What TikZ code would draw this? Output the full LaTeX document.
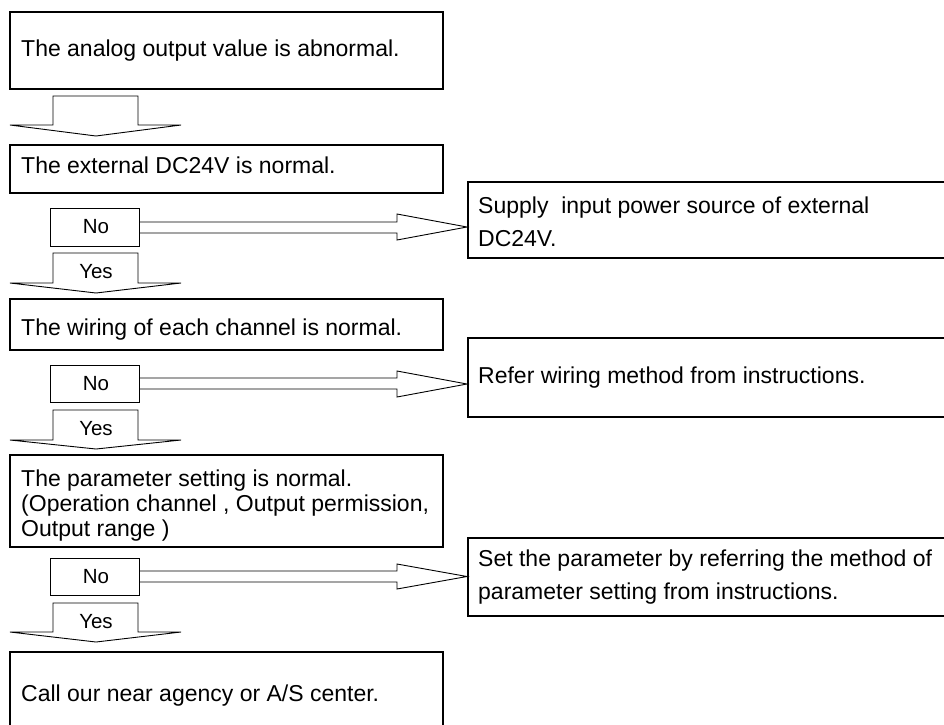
\documentclass[tikz,border=0pt]{standalone}
\usepackage{fontspec}
\setmainfont{Liberation Sans}
\begin{document}
\begin{tikzpicture}[x=1pt,y=-1pt,
  mainbox/.style={draw=black,line width=1.8pt,rectangle,inner sep=0pt,outer sep=0pt,anchor=north west},
  thinbox/.style={draw=black,line width=0.9pt,fill=white,rectangle,inner sep=0pt,outer sep=0pt,anchor=north west},
  txt/.style={inner sep=0pt,anchor=base west,font=\fontsize{23}{25}\selectfont},
  yn/.style={inner sep=0pt,anchor=center,font=\fontsize{20.5}{22}\selectfont},
  blockarrow/.style={draw=black,line width=0.9pt,fill=white,line join=miter}]

\useasboundingbox (0,0) rectangle (944,724);
\clip (0,0) rectangle (944,724);

% main boxes
\node[mainbox,minimum width=433pt,minimum height=77pt] (b1) at (10,12) {};
\node[mainbox,minimum width=433pt,minimum height=48pt] (b2) at (10,145) {};
\node[mainbox,minimum width=433pt,minimum height=51pt] (b3) at (10,299) {};
\node[mainbox,minimum width=433pt,minimum height=92pt] (b4) at (10,455) {};
\node[mainbox,minimum width=433pt,minimum height=100pt] (b5) at (10,652) {};
% right boxes
\node[mainbox,minimum width=520pt,minimum height=76pt] (r1) at (468,182) {};
\node[mainbox,minimum width=520pt,minimum height=79pt] (r2) at (468,338) {};
\node[mainbox,minimum width=520pt,minimum height=78pt] (r3) at (468,538) {};

% down arrows
\draw[blockarrow] (53,96) -- (53,125) -- (10,125) -- (96,136) -- (181,125) -- (138,125) -- (138,96) -- cycle;
\draw[blockarrow] (53,253) -- (53,283) -- (10,283) -- (96,293) -- (181,283) -- (138,283) -- (138,253) -- cycle;
\draw[blockarrow] (53,410) -- (53,440) -- (10,440) -- (96,449) -- (181,440) -- (138,440) -- (138,410) -- cycle;
\draw[blockarrow] (53,603) -- (53,632) -- (10,632) -- (96,642) -- (181,632) -- (138,632) -- (138,603) -- cycle;

% right arrows
\draw[blockarrow] (139,222) -- (397,222) -- (397,214) -- (467,227) -- (397,240) -- (397,233) -- (139,233);
\draw[blockarrow] (139,378) -- (397,378) -- (397,371) -- (467,384) -- (397,397) -- (397,389) -- (139,389);
\draw[blockarrow] (139,571) -- (397,571) -- (397,564) -- (467,576.5) -- (397,589) -- (397,582) -- (139,582);

% No boxes
\node[thinbox,minimum width=89pt,minimum height=38pt] (n1) at (50,208) {};
\node[thinbox,minimum width=89pt,minimum height=37pt] (n2) at (50,365) {};
\node[thinbox,minimum width=89pt,minimum height=37pt] (n3) at (50,558) {};

\node[yn] (no1) at (96,227) {No};
\node[yn] (no2) at (96,383.5) {No};
\node[yn] (no3) at (96,576.5) {No};
\node[yn] (yes1) at (96,272) {Yes};
\node[yn] (yes2) at (96,429) {Yes};
\node[yn] (yes3) at (96,622) {Yes};

% texts
\node[txt] (t1) at (21,56.5) {The analog output value is abnormal.};
\node[txt] (t2) at (21,173) {The external DC24V is normal.};
\node[txt] (t3) at (21,335) {The wiring of each channel is normal.};
\node[txt] (t4a) at (21,486) {The parameter setting is normal.};
\node[txt] (t4b) at (21,511) {(Operation channel , Output permission,};
\node[txt] (t4c) at (21,536) {Output range )};
\node[txt] (t5) at (21,701) {Call our near agency or A/S center.};
\node[txt] (s1a) at (478,213) {Supply\ \ input power source of external};
\node[txt] (s1b) at (478,246) {DC24V.};
\node[txt] (s2a) at (478,383) {Refer wiring method from instructions.};
\node[txt] (s3a) at (478,566) {Set the parameter by referring the method of};
\node[txt] (s3b) at (478,599) {parameter setting from instructions.};
\end{tikzpicture}
\end{document}
